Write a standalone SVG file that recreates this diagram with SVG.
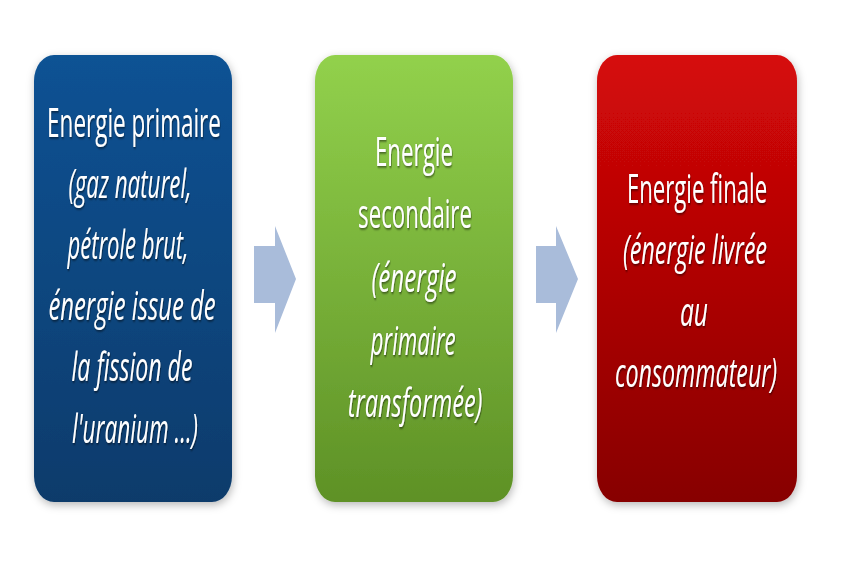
<svg xmlns="http://www.w3.org/2000/svg" width="860" height="573" viewBox="0 0 860 573">
  <defs>
    <linearGradient id="gBlue" x1="0" y1="0" x2="0" y2="1">
      <stop offset="0" stop-color="#0b5294"/>
      <stop offset="1" stop-color="#0a3b6b"/>
    </linearGradient>
    <linearGradient id="gGreen" x1="0" y1="0" x2="0" y2="1">
      <stop offset="0" stop-color="#92d14c"/>
      <stop offset="1" stop-color="#5e9126"/>
    </linearGradient>
    <linearGradient id="gRed" x1="0" y1="0" x2="0" y2="1">
      <stop offset="0" stop-color="#d60808"/>
      <stop offset="1" stop-color="#870000"/>
    </linearGradient>
    <filter id="boxShadow" x="-15%" y="-10%" width="130%" height="125%">
      <feDropShadow dx="1" dy="3" stdDeviation="4" flood-color="#000" flood-opacity="0.28"/>
    </filter>
    <filter id="txtShadow" x="-10%" y="-20%" width="120%" height="150%">
      <feDropShadow dx="1" dy="1.5" stdDeviation="0.8" flood-color="#000" flood-opacity="0.55"/>
    </filter>
  </defs>
  <style>
    .box { filter: url(#boxShadow); }
    .lbl { font-family: "Open Sans", "Noto Sans", sans-serif; font-size: 41px; fill: #ffffff; text-anchor: middle; filter: url(#txtShadow); }
    .it { font-style: italic; }
    .arrow { fill: #a9bcda; }
  </style>
  <rect width="860" height="573" fill="#ffffff"/>

  <g id="connectors">
    <polygon class="arrow" points="254,246 275,246 275,226 296,279 275,333 275,303 254,303"/>
    <polygon class="arrow" points="536,246 556,246 556,226 578,279 556,333 556,303 536,303"/>
  </g>

  <g id="node-primaire">
    <rect class="box" x="34" y="55" width="198" height="447" rx="20" ry="26" fill="url(#gBlue)"/>
    <text class="lbl" transform="translate(134,137) scale(0.55,1)" textLength="316" lengthAdjust="spacingAndGlyphs">Energie primaire</text>
    <text class="lbl it" transform="translate(130,198) scale(0.55,1)" textLength="224" lengthAdjust="spacingAndGlyphs">(gaz naturel,</text>
    <text class="lbl it" transform="translate(128,259) scale(0.55,1)" textLength="220" lengthAdjust="spacingAndGlyphs">pétrole brut,</text>
    <text class="lbl it" transform="translate(132,320) scale(0.55,1)" textLength="304" lengthAdjust="spacingAndGlyphs">énergie issue de</text>
    <text class="lbl it" transform="translate(132,381) scale(0.55,1)" textLength="220" lengthAdjust="spacingAndGlyphs">la fission de</text>
    <text class="lbl it" transform="translate(135,443) scale(0.55,1)" textLength="229" lengthAdjust="spacingAndGlyphs">l'uranium ...)</text>
  </g>

  <g id="node-secondaire">
    <rect class="box" x="315" y="55" width="198" height="447" rx="20" ry="26" fill="url(#gGreen)"/>
    <text class="lbl" transform="translate(414,166) scale(0.55,1)" textLength="142" lengthAdjust="spacingAndGlyphs">Energie</text>
    <text class="lbl" transform="translate(415,228) scale(0.55,1)" textLength="207" lengthAdjust="spacingAndGlyphs">secondaire</text>
    <text class="lbl it" transform="translate(414,292) scale(0.55,1)" textLength="155" lengthAdjust="spacingAndGlyphs">(énergie</text>
    <text class="lbl it" transform="translate(413,355) scale(0.55,1)" textLength="155" lengthAdjust="spacingAndGlyphs">primaire</text>
    <text class="lbl it" transform="translate(415,417) scale(0.55,1)" textLength="245" lengthAdjust="spacingAndGlyphs">transformée)</text>
  </g>

  <g id="node-finale">
    <rect class="box" x="597" y="55" width="200" height="447" rx="20" ry="26" fill="url(#gRed)"/>
    <text class="lbl" transform="translate(697,203) scale(0.55,1)" textLength="255" lengthAdjust="spacingAndGlyphs">Energie finale</text>
    <text class="lbl it" transform="translate(695,264) scale(0.55,1)" textLength="262" lengthAdjust="spacingAndGlyphs">(énergie livrée</text>
    <text class="lbl it" transform="translate(694,326) scale(0.55,1)" textLength="51" lengthAdjust="spacingAndGlyphs">au</text>
    <text class="lbl it" transform="translate(696,387) scale(0.55,1)" textLength="295" lengthAdjust="spacingAndGlyphs">consommateur)</text>
  </g>
</svg>
